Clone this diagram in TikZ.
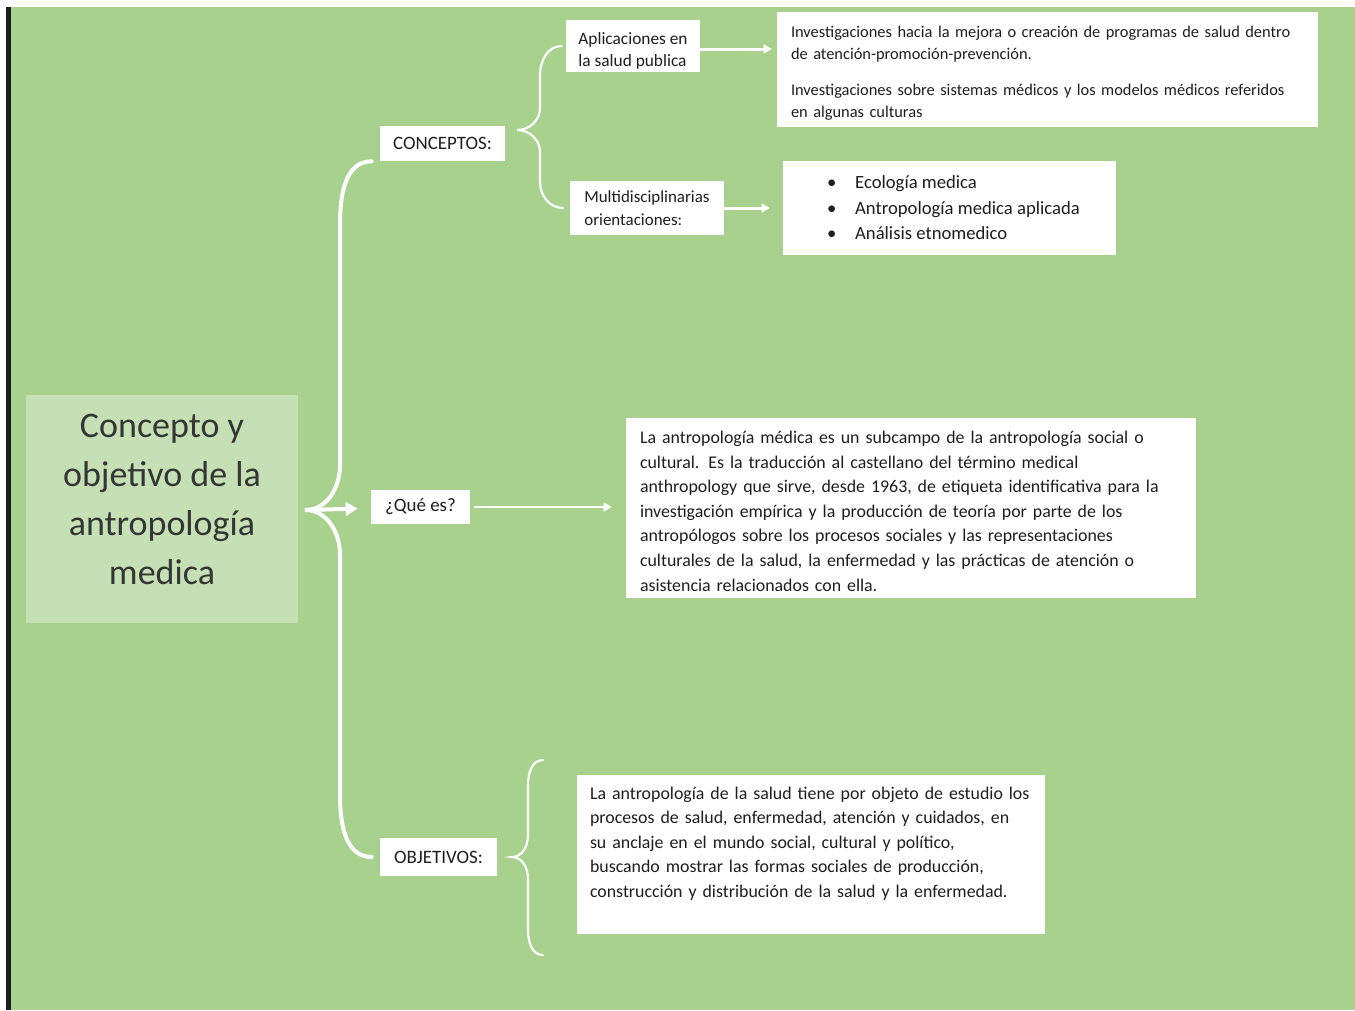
\documentclass[tikz,border=0pt]{standalone}
\usepackage{fontspec}
\setmainfont{Carlito}
\usetikzlibrary{positioning,arrows.meta}
\definecolor{sheet}{HTML}{A9D18E}
\definecolor{titlebg}{HTML}{C5E0B4}
\definecolor{ink}{HTML}{1E1E1E}
\definecolor{edge}{HTML}{1B1D1C}
\newcommand{\bul}{\hspace*{6pt}\makebox[21pt][l]{\textbullet}}

\begin{document}
\begin{tikzpicture}[x=0.75pt, y=0.75pt,
    card/.style={fill=white, text=ink, inner ysep=0pt, align=left},
    tag/.style={fill=white, text=ink, inner sep=0pt, align=center, font=\fontsize{14.2}{17}\selectfont},
    flow/.style={draw=white, line width=2.25pt, -{Triangle[length=6pt,width=6.5pt]}},
    brace/.style={draw=white, line width=1.6pt, line cap=round}]
  % page
  \fill[white] (0,0) rectangle (1355,-1010);
  \fill[edge] (6,-7) rectangle (11,-1010);
  \fill[sheet] (11,-7) rectangle (1355,-1010);

  % title
  \node[fill=titlebg, text=ink!90, minimum width=204pt, minimum height=171pt, align=center,
    font=\fontsize{27}{36.75}\selectfont] (title) at (162,-509)
    {Concepto y\\ objetivo de la\\ antropología\\ medica\\[-21.75pt]\mbox{}};

  % first level
  \node[tag, minimum width=93.75pt, minimum height=26.25pt] (concep) at (442.5,-143.5) {CONCEPTOS:};
  \node[tag, minimum width=74.25pt, minimum height=25.5pt] (que) at (420.5,-507) {¿Qué es?};
  \node[tag, minimum width=87.75pt, minimum height=28.5pt] (objet) at (438.5,-857) {OBJETIVOS:};

  % conceptos branch
  \node[card, inner xsep=0pt, minimum width=100.5pt, minimum height=39pt,
    font=\fontsize{13}{16.5}\selectfont] (aplic) at (633,-46)
    {\rule{0pt}{17pt}Aplicaciones en\\ la salud publica};
  \node[card, inner xsep=0pt, minimum width=115.5pt, minimum height=40.5pt,
    font=\fontsize{12.7}{17.25}\selectfont] (multi) at (647,-208)
    {Multidisciplinarias\\ orientaciones:};
  \node[card, inner xsep=10.5pt, text width=384.75pt, minimum height=86.25pt,
    font=\fontsize{12.3}{16.5}\selectfont] (invest) at (1047.5,-69.5)
    {\rule{0pt}{13.5pt}Investigaciones hacia la mejora o creación de programas de salud dentro\\
     de atención-promoción-prevención.\\[10.5pt]
     Investigaciones sobre sistemas médicos y los modelos médicos referidos\\
     en algunas culturas};
  \node[card, inner xsep=0pt, minimum width=249.75pt, minimum height=70.5pt,
    font=\fontsize{14}{19.1}\selectfont] (orient) at (949.5,-208)
    {\bul Ecología medica\\ \bul Antropología medica aplicada\\ \bul Análisis etnomedico};

  % que es branch
  \node[card, inner xsep=10.5pt, text width=406.5pt, minimum height=135pt,
    font=\fontsize{13.4}{18.45}\selectfont] (descr) at (911,-508)
    {\rule{0pt}{14pt}La antropología médica es un subcampo de la antropología social o\\
     cultural. Es la traducción al castellano del término medical\\
     anthropology que sirve, desde 1963, de etiqueta identificativa para la\\
     investigación empírica y la producción de teoría por parte de los\\
     antropólogos sobre los procesos sociales y las representaciones\\
     culturales de la salud, la enfermedad y las prácticas de atención o\\
     asistencia relacionados con ella.};

  % objetivos branch
  \node[card, inner xsep=9.75pt, text width=331.5pt, minimum height=119.25pt,
    font=\fontsize{13.4}{18.4}\selectfont] (objtxt) at (811,-854.5)
    {La antropología de la salud tiene por objeto de estudio los\\
     procesos de salud, enfermedad, atención y cuidados, en\\
     su anclaje en el mundo social, cultural y político,\\
     buscando mostrar las formas sociales de producción,\\
     construcción y distribución de la salud y la enfermedad.\\ \mbox{}};

  % braces
  \coordinate (bigTip) at (305,-510);
  \coordinate (cTip) at (517,-130);
  \coordinate (oTip) at ([xshift=11pt]objet.east);
  \coordinate (oTop) at (543,-760);
  \coordinate (oBot) at (543,-955);
  \draw[brace, line width=3pt] ([xshift=-6pt]concep.south west) to[out=180,in=90] (340,-225)
    -- (340,-465) to[out=-90,in=0] (bigTip) to[out=0,in=90] (340,-555)
    -- (340,-795) to[out=-90,in=180] ([xshift=-6pt]objet.west);
  \draw[brace] ([xshift=-3pt]aplic.west) to[out=180,in=90] (540,-75) -- (540,-108)
    to[out=-90,in=0] (cTip) to[out=0,in=90] (540,-152) -- (540,-182)
    to[out=-90,in=180] ([xshift=-5pt]multi.west);
  \draw[brace] (oTop) to[out=180,in=90] (528,-785) -- (528,-835)
    to[out=-90,in=0] (oTip) to[out=0,in=90] (528,-879) -- (528,-930)
    to[out=-90,in=180] (oBot);

  % arrows
  \draw[flow, shorten >=3.75pt] ([yshift=-2.25pt]aplic.east) -- ([yshift=-2.25pt]invest.west |- aplic);
  \draw[flow, shorten >=9.75pt] (multi) -- (orient.west |- multi);
  \draw[flow, line width=3pt, -{Triangle[length=9pt,width=10pt]}, shorten >=9.75pt] (bigTip) -- (que);
  \draw[flow, line width=1.5pt, shorten <=3pt, shorten >=10.5pt] (que) -- (descr.west |- que);
\end{tikzpicture}
\end{document}
